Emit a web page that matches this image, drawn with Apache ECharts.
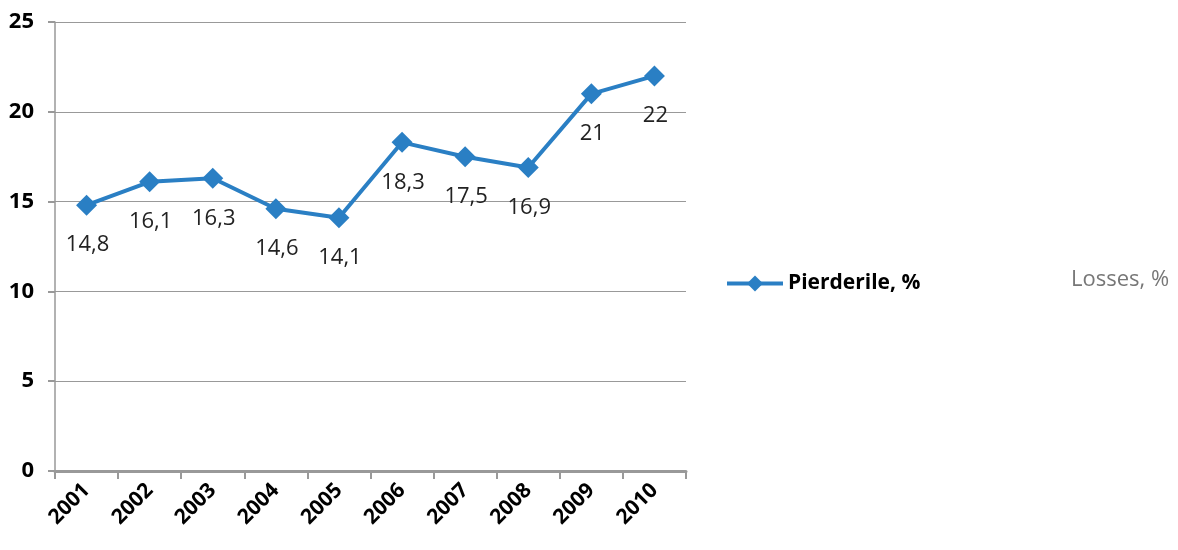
<!DOCTYPE html>
<html><head><meta charset="utf-8">
<script src="https://cdn.jsdelivr.net/npm/echarts@6/dist/echarts.min.js"></script>
<style>html,body{margin:0;padding:0;background:#fff}#c{width:1178px;height:550px}</style>
</head><body><div id="c"></div>
<script>
const years = ['2001','2002','2003','2004','2005','2006','2007','2008','2009','2010'];
const losses = [14.8, 16.1, 16.3, 14.6, 14.1, 18.3, 17.5, 16.9, 21, 22];
const seriesName = 'Pierderile, %';
const sideNote = 'Losses, %';
const yTicks = [0, 5, 10, 15, 20, 25];

const chart = echarts.init(document.getElementById('c'));
chart.setOption({
  animation: false,
  grid: {left: 55, right: 492, top: 22, bottom: 79, containLabel: false},
  legend: {
    show: true, left: 720, top: 268, itemWidth: 56, itemHeight: 20,
    textStyle: {fontFamily: 'Open Sans', fontSize: 21, fontWeight: 'bold', color: '#000'},
    lineStyle: {width: 4},
    itemGap: 4, data: [seriesName]
  },
  title: {
    text: sideNote, left: 1066, top: 264,
    textStyle: {fontFamily: 'Open Sans', fontSize: 22, fontWeight: 'normal', color: '#777'}
  },
  xAxis: {
    type: 'category', data: years, boundaryGap: true,
    axisLine: {lineStyle: {color: '#999', width: 3}},
    axisTick: {show: true, length: 8, interval: 0, alignWithLabel: false, lineStyle: {color: '#999', width: 2}},
    axisLabel: {rotate: 45, margin: 16, fontFamily: 'Open Sans', fontSize: 21, fontWeight: 'bold', color: '#000', interval: 0}
  },
  yAxis: {
    type: 'value', min: 0, max: 25, interval: 5,
    axisLine: {show: true, lineStyle: {color: '#999', width: 1.5}},
    axisTick: {show: true, length: 7, lineStyle: {color: '#999', width: 2}},
    splitLine: {show: true, lineStyle: {color: '#999', width: 1.2}},
    axisLabel: {margin: 21, fontFamily: 'Open Sans', fontSize: 22, fontWeight: 'bold', color: '#000',
      formatter: v => yTicks.includes(v) ? String(v) : ''}
  },
  series: [{
    name: seriesName, type: 'line', data: losses,
    symbol: 'diamond', symbolSize: 21,
    lineStyle: {color: '#2a7fc4', width: 4},
    itemStyle: {color: '#2a7fc4'},
    label: {
      show: true, position: 'inside', offset: [1, 40],
      fontFamily: 'Open Sans', fontSize: 22, color: '#222',
      formatter: p => String(p.value).replace('.', ',')
    }
  }]
});
</script></body></html>
